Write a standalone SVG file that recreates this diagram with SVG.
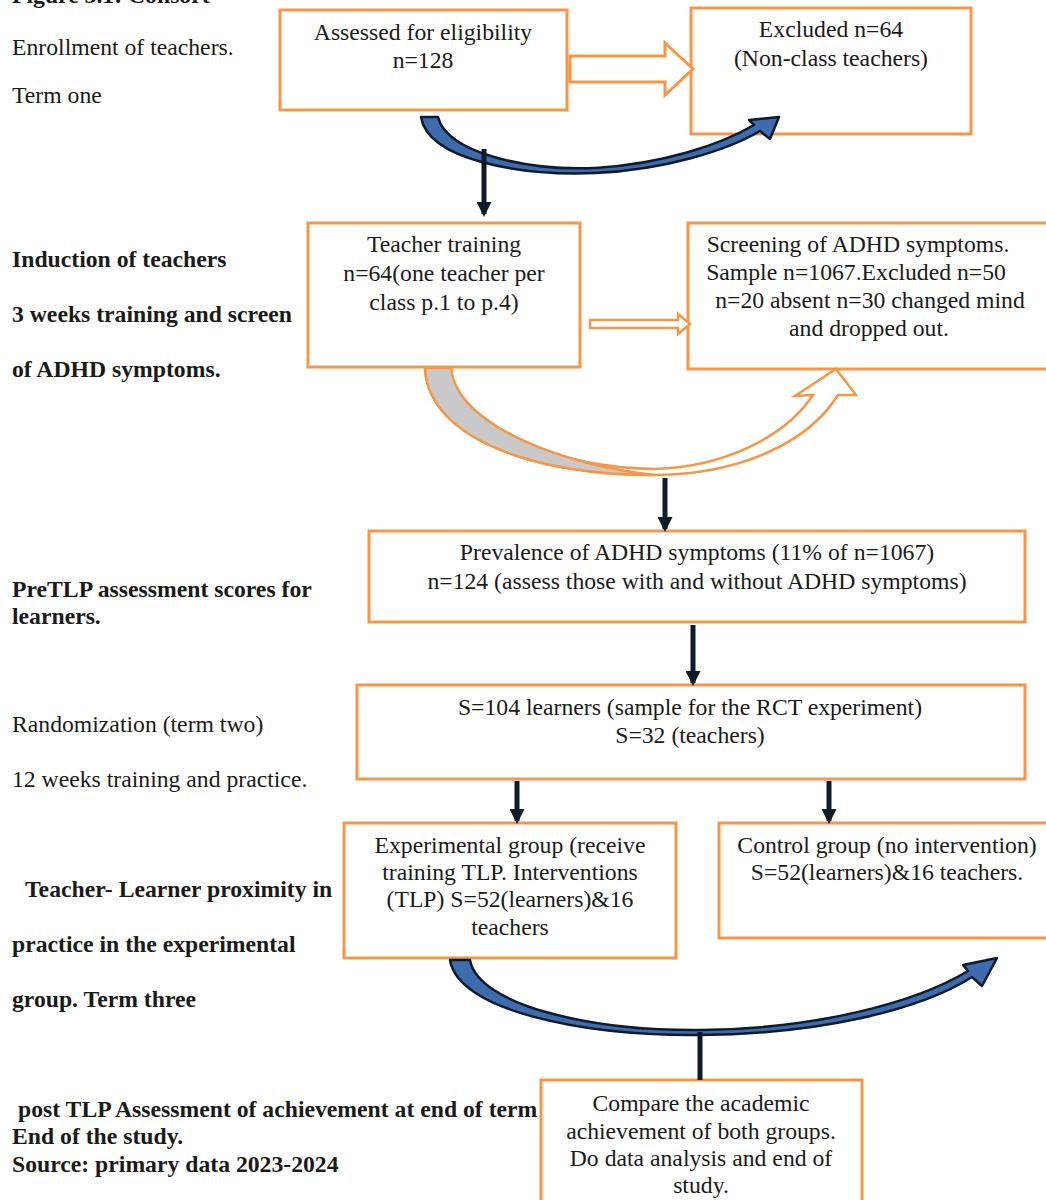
<svg xmlns="http://www.w3.org/2000/svg" width="1046" height="1200" viewBox="0 0 1046 1200">
<style>
  .box{fill:#ffffff;stroke:#f79646;stroke-width:3}
  .t{font-family:"Liberation Serif","Times New Roman",serif;font-size:23.7px;fill:#1a1a1a}
  .c{text-anchor:middle}
  .b{font-weight:bold}
  .blk{stroke:#0f1a2a;stroke-width:5;fill:none}
  .blue{fill:#3d6cae;stroke:#0f1a2a;stroke-width:2.5;stroke-linejoin:round}
  .hollow{fill:#ffffff;stroke:#f79646;stroke-width:3;stroke-linejoin:miter}
</style>
<defs>
  <marker id="ah" viewBox="0 0 10 10" refX="8" refY="5" markerWidth="3" markerHeight="3" orient="auto" markerUnits="strokeWidth">
    <path d="M0,0 L10,5 L0,10 Z" fill="#0f1a2a"/>
  </marker>
</defs>
<rect width="1046" height="1200" fill="#ffffff"/>

<g id="left-labels">
  <text class="t b" x="12" y="3">Figure 3.1: Consort</text>
  <text class="t" x="12" y="55">Enrollment of teachers.</text>
  <text class="t" x="12" y="103">Term one</text>
  <text class="t b" x="12" y="267">Induction of teachers</text>
  <text class="t b" x="12" y="322">3 weeks training and screen</text>
  <text class="t b" x="12" y="377">of ADHD symptoms.</text>
  <text class="t b" x="12" y="597">PreTLP assessment scores for</text>
  <text class="t b" x="12" y="624">learners.</text>
  <text class="t" x="12" y="732">Randomization (term two)</text>
  <text class="t" x="12" y="787">12 weeks training and practice.</text>
  <text class="t b" x="25" y="897">Teacher- Learner proximity in</text>
  <text class="t b" x="12" y="952">practice in the experimental</text>
  <text class="t b" x="12" y="1007">group. Term three</text>
  <text class="t b" x="18" y="1117">post TLP Assessment of achievement at end of term</text>
  <text class="t b" x="12" y="1144">End of the study.</text>
  <text class="t b" x="12" y="1172">Source: primary data 2023-2024</text>
</g>

<g id="n1">
  <rect class="box" x="280" y="10" width="287" height="100"/>
  <text class="t c" x="423" y="40">Assessed for eligibility</text>
  <text class="t c" x="423" y="68">n=128</text>
</g>
<g id="n2">
  <rect class="box" x="691" y="8" width="280" height="126"/>
  <text class="t c" x="831" y="37">Excluded n=64</text>
  <text class="t c" x="831" y="66">(Non-class teachers)</text>
</g>
<g id="n3">
  <rect class="box" x="308" y="223" width="272" height="144"/>
  <text class="t c" x="444" y="252">Teacher training</text>
  <text class="t c" x="444" y="281">n=64(one teacher per</text>
  <text class="t c" x="444" y="310">class p.1 to p.4)</text>
</g>
<g id="n4">
  <rect class="box" x="688" y="223" width="370" height="146"/>
  <text class="t c" x="858" y="252">Screening of ADHD symptoms.</text>
  <text class="t c" x="856" y="280">Sample n=1067.Excluded n=50</text>
  <text class="t c" x="870" y="308">n=20 absent n=30 changed mind</text>
  <text class="t c" x="869" y="336">and dropped out.</text>
</g>
<g id="n5">
  <rect class="box" x="369" y="531" width="656" height="91"/>
  <text class="t c" x="697" y="560">Prevalence of ADHD symptoms (11% of n=1067)</text>
  <text class="t c" x="697" y="589">n=124 (assess those with and without ADHD symptoms)</text>
</g>
<g id="n6">
  <rect class="box" x="357" y="685" width="668" height="94"/>
  <text class="t c" x="690" y="715">S=104 learners (sample for the RCT experiment)</text>
  <text class="t c" x="690" y="743">S=32 (teachers)</text>
</g>
<g id="n7">
  <rect class="box" x="344" y="823" width="332" height="135"/>
  <text class="t c" x="510" y="853">Experimental group (receive</text>
  <text class="t c" x="510" y="880">training TLP. Interventions</text>
  <text class="t c" x="510" y="907">(TLP) S=52(learners)&amp;16</text>
  <text class="t c" x="510" y="935">teachers</text>
</g>
<g id="n8">
  <rect class="box" x="719" y="823" width="340" height="115"/>
  <text class="t c" x="887" y="853">Control group (no intervention)</text>
  <text class="t c" x="887" y="880">S=52(learners)&amp;16 teachers.</text>
</g>
<g id="n9">
  <rect class="box" x="541" y="1080" width="321" height="130"/>
  <text class="t c" x="701" y="1111">Compare the academic</text>
  <text class="t c" x="701" y="1139">achievement of both groups.</text>
  <text class="t c" x="701" y="1166">Do data analysis and end of</text>
  <text class="t c" x="701" y="1193">study.</text>
</g>

<g id="connectors">
  <path class="hollow" d="M570,56 L665,56 L665,43 L693,69 L665,95 L665,82 L570,82 Z"/>
  <path class="blue" d="M421,117 C428,160 520,176 595,173 C665,170 728,150 760,131 L770,139 L779,117 L749,120 L754,125 C720,145 662,164 595,168 C525,171 446,152 438,117 Z"/>
  <line class="blk" x1="484" y1="149" x2="484" y2="214" marker-end="url(#ah)"/>
  <path class="hollow" d="M590,320 L678,320 L678,314 L690,324 L678,334 L678,328 L590,328 Z" style="stroke-width:2.5"/>
  <path class="hollow" d="M425,368 C428,440 540,476 655,475 C745,474 810,440 838,395 L856,395 L836,369 L795,396 L813,395 C786,436 725,467 655,469 C560,468 455,430 451,368 Z" style="stroke-width:2.5"/>
  <path d="M425,368 C428,440 540,476 655,475 C570,466 457,428 451,368 Z" fill="#c9c9c9" stroke="#f79646" stroke-width="2.5"/>
  <line class="blk" x1="665" y1="478" x2="665" y2="529" marker-end="url(#ah)"/>
  <line class="blk" x1="693" y1="625" x2="693" y2="683" marker-end="url(#ah)"/>
  <line class="blk" x1="517" y1="781" x2="517" y2="821" marker-end="url(#ah)"/>
  <line class="blk" x1="829" y1="781" x2="829" y2="821" marker-end="url(#ah)"/>
  <path class="blue" d="M450,960 C458,1010 580,1036 700,1035 C820,1034 920,1010 972,977 L982,986 L997,958 L963,965 L968,971 C915,1003 815,1029 700,1030 C590,1031 478,1005 470,960 Z"/>
  <line class="blk" x1="700" y1="1032" x2="700" y2="1080"/>
</g>
</svg>
